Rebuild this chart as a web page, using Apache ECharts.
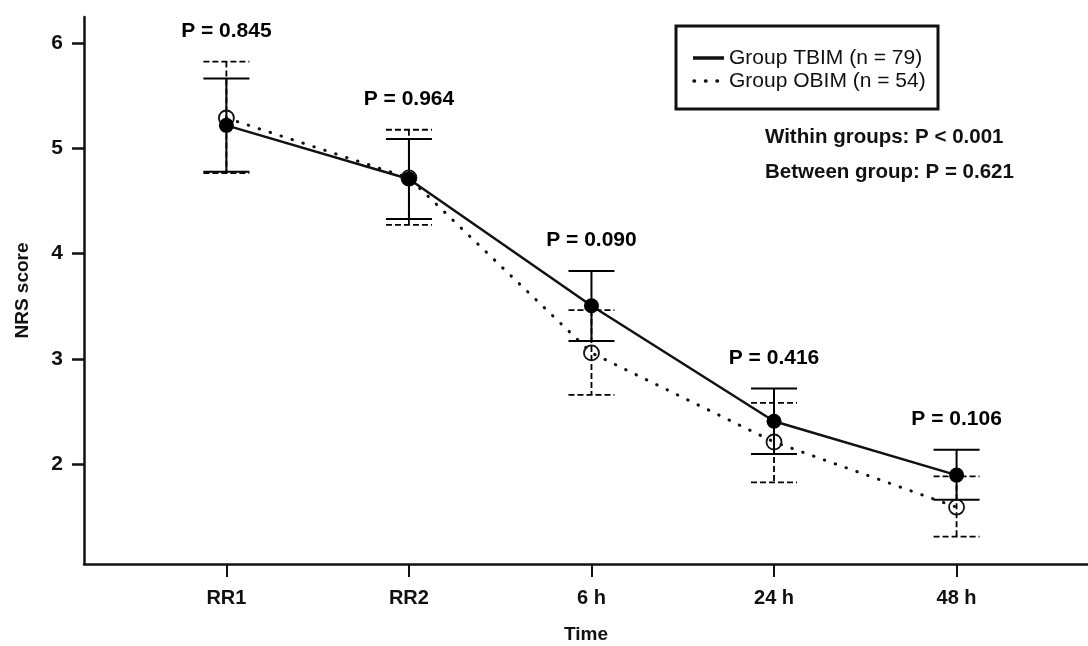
<!DOCTYPE html>
<html>
<head>
<meta charset="utf-8">
<script src="https://cdn.jsdelivr.net/npm/echarts@6/dist/echarts.min.js"></script>
<style>
  html, body { margin: 0; padding: 0; background: #fff; }
  #chart { width: 1088px; height: 646px; }
</style>
</head>
<body>
<div id="chart"></div>
<script>
var timePoints = ['RR1', 'RR2', '6 h', '24 h', '48 h']
var tbimMean = [5.22, 4.71, 3.505, 2.407, 1.895]
var tbimLow = [4.78, 4.33, 3.17, 2.095, 1.66]
var tbimHigh = [5.665, 5.09, 3.835, 2.718, 2.137]
var obimMean = [5.29, 4.72, 3.057, 2.21, 1.59]
var obimLow = [4.765, 4.273, 2.657, 1.826, 1.311]
var obimHigh = [5.826, 5.178, 3.464, 2.581, 1.883]
var pValues = ['P = 0.845', 'P = 0.964', 'P = 0.090', 'P = 0.416', 'P = 0.106']
var yTicks = [2, 3, 4, 5, 6]

var FONT = '"Liberation Sans", Arial, sans-serif'

function points(values) {
  return values.map(function (v, i) { return [i + 1, v] })
}

function bars(low, high) {
  return low.map(function (v, i) { return [i + 1, v, high[i]] })
}

// vertical error bar with caps, solid or dashed
function errorBar(dashed) {
  return function (params, api) {
    var x = api.value(0)
    var lo = api.coord([x, api.value(1)])
    var hi = api.coord([x, api.value(2)])
    var half = 23
    var style = {
      stroke: '#000',
      lineWidth: dashed ? 1.8 : 2,
      lineDash: dashed ? [6, 3] : null
    }
    return {
      type: 'group',
      children: [
        { type: 'line', shape: { x1: hi[0], y1: hi[1], x2: lo[0], y2: lo[1] }, style: style },
        { type: 'line', shape: { x1: hi[0] - half, y1: hi[1], x2: hi[0] + half, y2: hi[1] }, style: style },
        { type: 'line', shape: { x1: lo[0] - half, y1: lo[1], x2: lo[0] + half, y2: lo[1] }, style: style }
      ]
    }
  }
}

var chart = echarts.init(document.getElementById('chart'))

chart.setOption({
  backgroundColor: '#fff',
  animation: false,
  grid: { left: 84, right: 0, top: 17, bottom: 82, outerBoundsMode: 'none', containLabel: false },
  xAxis: {
    type: 'value',
    min: 0.22,
    max: 5.72,
    name: 'Time',
    nameLocation: 'middle',
    nameGap: 61,
    nameTextStyle: { fontFamily: FONT, fontSize: 19, fontWeight: 'bold', color: '#111' },
    splitLine: { show: false },
    axisLine: { show: true, lineStyle: { color: '#111', width: 2.5 } },
    axisTick: {
      show: true,
      length: 13,
      customValues: [1, 2, 3, 4, 5],
      lineStyle: { color: '#111', width: 2 }
    },
    axisLabel: {
      customValues: [1, 2, 3, 4, 5],
      margin: 24,
      fontFamily: FONT,
      fontSize: 20,
      fontWeight: 'bold',
      color: '#111',
      formatter: function (v) { return timePoints[Math.round(v) - 1] }
    }
  },
  yAxis: {
    type: 'value',
    min: 1.05,
    max: 6.25,
    name: 'NRS score',
    nameLocation: 'middle',
    nameGap: 52,
    nameRotate: 90,
    nameTextStyle: { fontFamily: FONT, fontSize: 19, fontWeight: 'bold', color: '#111' },
    splitLine: { show: false },
    axisLine: { show: true, lineStyle: { color: '#111', width: 2.5 } },
    axisTick: {
      show: true,
      length: 12,
      customValues: yTicks,
      lineStyle: { color: '#111', width: 2.5 }
    },
    axisLabel: {
      customValues: yTicks,
      margin: 21,
      fontFamily: FONT,
      fontSize: 21,
      fontWeight: 'bold',
      color: '#111'
    }
  },
  series: [
    {
      type: 'custom',
      name: 'TBIM error',
      z: 1,
      renderItem: errorBar(false),
      encode: { x: 0, y: [1, 2] },
      data: bars(tbimLow, tbimHigh)
    },
    {
      type: 'custom',
      name: 'OBIM error',
      z: 1,
      renderItem: errorBar(true),
      encode: { x: 0, y: [1, 2] },
      data: bars(obimLow, obimHigh)
    },
    {
      type: 'line',
      name: 'Group OBIM (n = 54)',
      z: 2,
      data: points(obimMean),
      symbol: 'circle',
      symbolSize: 15,
      itemStyle: { color: 'rgba(0,0,0,0)', borderColor: '#111', borderWidth: 1.8 },
      lineStyle: { color: '#111', width: 3, type: [0.5, 11], cap: 'round' }
    },
    {
      type: 'line',
      name: 'Group TBIM (n = 79)',
      z: 3,
      data: points(tbimMean),
      symbol: 'circle',
      symbolSize: 15,
      itemStyle: { color: '#000', borderColor: '#000', borderWidth: 0 },
      lineStyle: { color: '#111', width: 2.5 }
    },
    {
      type: 'scatter',
      name: 'P values',
      z: 4,
      symbolSize: 0,
      silent: true,
      itemStyle: { opacity: 1 },
      data: tbimHigh.map(function (v, i) { return [i + 1, Math.max(v, obimHigh[i])] }),
      label: {
        show: true,
        position: 'top',
        distance: 20,
        fontFamily: FONT,
        fontSize: 21,
        fontWeight: 'bold',
        color: '#000',
        formatter: function (p) { return pValues[p.dataIndex] }
      }
    }
  ],
  graphic: [
    {
      type: 'rect',
      shape: { x: 676, y: 26, width: 262, height: 83 },
      style: { fill: '#fff', stroke: '#111', lineWidth: 3 }
    },
    {
      type: 'line',
      shape: { x1: 693, y1: 58, x2: 724, y2: 58 },
      style: { stroke: '#111', lineWidth: 3.5 }
    },
    {
      type: 'line',
      shape: { x1: 694, y1: 81, x2: 724, y2: 81 },
      style: { stroke: '#111', lineWidth: 3.5, lineDash: [0.5, 11], lineCap: 'round' }
    },
    {
      type: 'text',
      x: 729,
      y: 58,
      style: { text: 'Group TBIM (n = 79)', fontFamily: FONT, fontSize: 21, fill: '#111', verticalAlign: 'middle' }
    },
    {
      type: 'text',
      x: 729,
      y: 81,
      style: { text: 'Group OBIM (n = 54)', fontFamily: FONT, fontSize: 21, fill: '#111', verticalAlign: 'middle' }
    },
    {
      type: 'text',
      x: 765,
      y: 137,
      style: { text: 'Within groups: P < 0.001', fontFamily: FONT, fontSize: 20.5, fontWeight: 'bold', fill: '#111', verticalAlign: 'middle' }
    },
    {
      type: 'text',
      x: 765,
      y: 172,
      style: { text: 'Between group: P = 0.621', fontFamily: FONT, fontSize: 20.5, fontWeight: 'bold', fill: '#111', verticalAlign: 'middle' }
    }
  ]
})
</script>
</body>
</html>
